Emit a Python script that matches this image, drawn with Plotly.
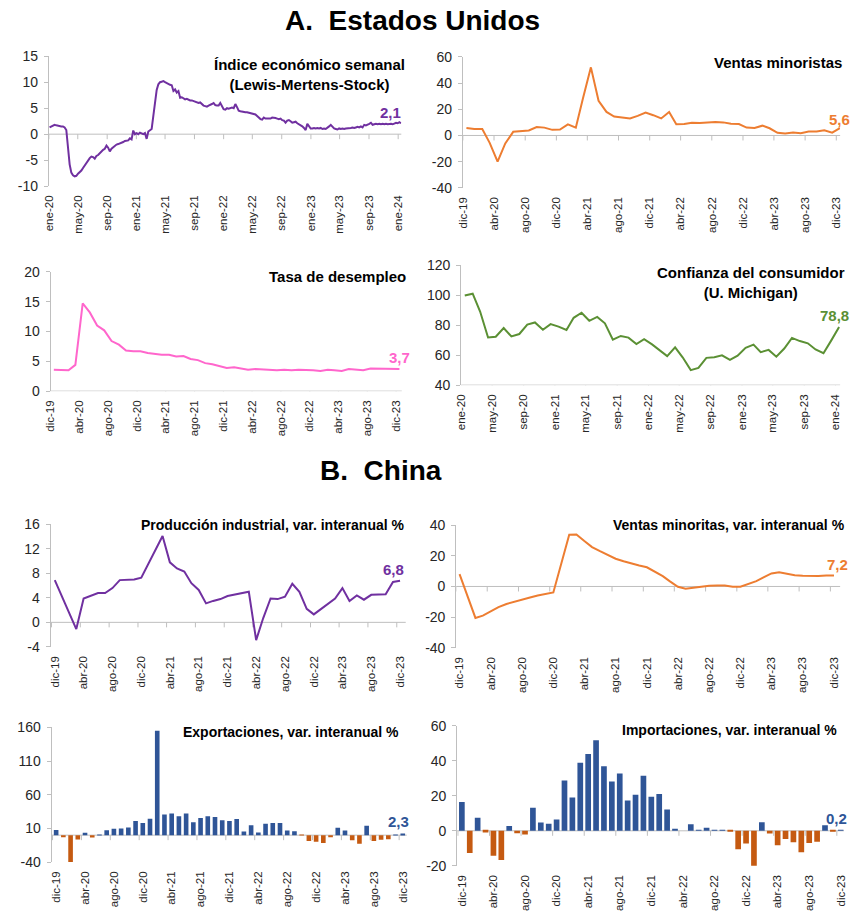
import plotly.graph_objects as go
import pandas as pd

W, H = 855, 913
FONT = "Liberation Sans, Arial, Helvetica, sans-serif"

MESES = ["ene", "feb", "mar", "abr", "may", "jun", "jul", "ago", "sep", "oct", "nov", "dic"]

TICKS_ENE = ["ene-20", "may-20", "sep-20", "ene-21", "may-21", "sep-21", "ene-22",
             "may-22", "sep-22", "ene-23", "may-23", "sep-23", "ene-24"]
TICKS_DIC = ["dic-19", "abr-20", "ago-20", "dic-20", "abr-21", "ago-21", "dic-21",
             "abr-22", "ago-22", "dic-22", "abr-23", "ago-23", "dic-23"]

# ---------------- Estados Unidos ----------------
# Índice económico semanal (Lewis-Mertens-Stock), semanal desde 04-ene-2020
LMS_2020 = [1.3, 1.5, 1.7, 1.8,
            1.7, 1.6, 1.6, 1.5, 1.5,
            1.3, 0.8, -2.5, -5.8,
            -7.4, -7.9, -8.1, -8.0,
            -7.6, -7.3, -7.0, -6.5, -6.0,
            -5.5, -5.0, -4.6, -4.3,
            -4.4, -4.7, -4.2, -4.0,
            -3.6, -3.4, -3.0, -2.8, -2.2,
            -2.6, -3.3, -2.8, -2.5,
            -2.3, -2.0, -1.9, -1.8, -1.6,
            -1.5, -1.3, -1.2, -1.2,
            -0.8, -1.0, 0.7, 0.0]
LMS_2021 = [0.2, 0.0, 0.3, 0.1, 0.0,
            0.2, -0.9, 0.5, 0.8,
            1.0, 3.5, 6.5, 8.5,
            9.6, 10.0, 10.1, 10.2,
            10.0, 9.8, 9.6, 9.5, 9.4,
            8.3, 8.6, 8.0, 8.3,
            7.0, 7.1, 6.9, 6.7, 6.8,
            6.6, 6.5, 6.5, 6.4,
            6.3, 6.2, 6.0, 6.1,
            5.8, 5.5, 5.4, 5.3, 5.5,
            5.6, 5.8, 6.0, 5.6,
            5.5, 5.5, 6.0, 5.4]
LMS_2022 = [4.8, 4.7, 5.0, 4.9, 5.0,
            5.1, 5.0, 5.8, 5.2,
            4.5, 4.4, 4.3, 4.3,
            4.2, 4.2, 4.1, 4.0, 4.0,
            3.9, 3.8, 3.5, 3.2,
            2.9, 2.8, 3.2, 3.0,
            3.0, 3.1, 3.0, 3.2, 3.2,
            3.1, 3.0, 2.9, 3.0,
            2.7, 2.6, 2.2, 2.6,
            2.7, 2.5, 2.2, 2.3, 2.4,
            2.1, 1.9, 1.8, 1.5,
            1.2, 0.8, 2.0, 1.5, 1.1]
LMS_2023 = [1.1, 1.2, 1.1, 1.2,
            1.1, 1.2, 1.0, 1.1,
            1.0, 1.2, 1.5, 1.8,
            1.5, 1.1, 1.0, 0.9, 1.1,
            1.0, 1.1, 1.0, 1.1,
            1.1, 1.2, 1.2, 1.3,
            1.2, 1.3, 1.4, 1.3, 1.5,
            1.3, 1.8, 1.7, 1.8,
            2.0, 2.2, 1.8, 1.9, 2.0,
            1.9, 2.0, 1.9, 2.0,
            1.9, 2.0, 1.9, 2.0,
            2.0, 1.9, 2.1, 2.2, 2.1]
LMS_2024 = [2.3, 2.1]
LMS = LMS_2020 + LMS_2021 + LMS_2022 + LMS_2023 + LMS_2024
LMS_FECHAS = pd.date_range("2020-01-04", periods=len(LMS), freq="7D")

# Ventas minoristas (var. a/a %), dic-19 .. dic-23
VENTAS_EU = [5.8, 5.0, 4.9, -5.6, -19.9, -6.1, 2.8, 3.3, 3.8, 6.5, 6.0, 4.3,
             4.5, 8.5, 6.0, 28.5, 52.0, 26.5, 18.0, 14.5, 14.0, 13.0, 15.0, 17.5,
             15.5, 13.0, 18.0, 8.5, 8.7, 9.8, 9.5, 10.0, 10.3, 10.0, 9.0, 8.7,
             6.0, 5.8, 7.5, 5.5, 2.0, 1.5, 2.3, 1.8, 3.0, 3.0, 4.0, 2.2,
             5.6]
# Tasa de desempleo (%), dic-19 .. dic-23
DESEMPLEO = [3.6, 3.6, 3.5, 4.4, 14.7, 13.2, 11.0, 10.2, 8.4, 7.8, 6.8, 6.7,
             6.7, 6.4, 6.2, 6.1, 6.1, 5.8, 5.9, 5.4, 5.2, 4.7, 4.5, 4.2,
             3.9, 4.0, 3.8, 3.6, 3.7, 3.6, 3.6, 3.5, 3.6, 3.5, 3.6, 3.6,
             3.5, 3.4, 3.6, 3.5, 3.4, 3.7, 3.6, 3.5, 3.8, 3.8, 3.8, 3.7,
             3.7]
# Confianza del consumidor (U. Michigan), ene-20 .. ene-24
CONFIANZA = [99.8, 101.0, 89.1, 71.8, 72.3, 78.1, 72.5, 74.1, 80.4, 81.8, 76.9, 80.7,
             79.0, 76.8, 84.9, 88.3, 82.9, 85.5, 81.2, 70.3, 72.8, 71.7, 67.4, 70.6,
             67.2, 62.8, 59.4, 65.2, 58.4, 50.0, 51.5, 58.2, 58.6, 59.9, 56.8, 59.7,
             64.9, 67.0, 62.0, 63.5, 59.0, 64.4, 71.5, 69.4, 67.9, 63.8, 61.3, 69.7,
             78.8]

# ---------------- China ----------------
N = None
PROD_IND = [6.9, N, N, -1.1, 3.9, 4.4, 4.8, 4.8, 5.6, 6.9, 6.9, 7.0,
            7.3, N, N, 14.1, 9.8, 8.8, 8.3, 6.4, 5.3, 3.1, 3.5, 3.8,
            4.3, N, N, 5.0, -2.9, 0.7, 3.9, 3.8, 4.2, 6.3, 5.0, 2.2,
            1.3, N, N, 3.9, 5.6, 3.5, 4.4, 3.7, 4.5, 4.5, 4.6, 6.6,
            6.8]
VENTAS_CH = [8.0, N, -20.5, -19.0, -16.2, -13.5, -11.4, -9.9, -8.6, -7.2, -5.9, -4.8,
             -3.9, N, 33.8, 33.9, 29.6, 25.7, 23.0, 20.7, 18.1, 16.4, 14.9, 13.7,
             12.5, N, 6.7, 3.3, -0.2, -1.5, -0.7, -0.2, 0.5, 0.7, 0.6, -0.1,
             -0.2, N, 3.5, 5.8, 8.5, 9.3, 8.2, 7.3, 7.0, 6.8, 6.9, 7.2,
             7.2]
EXPORT = [7.6, -3.0, -40.6, -6.6, 3.5, -3.3, 0.5, 7.2, 9.5, 9.9, 11.4, 21.1,
          18.1, 24.5, 154.9, 30.6, 32.3, 27.9, 32.2, 19.3, 25.6, 28.1, 27.1, 22.0,
          20.9, 24.1, 5.5, 14.7, 3.9, 16.9, 17.9, 18.0, 7.1, 5.7, -0.3, -8.7,
          -9.9, -11.5, -3.0, 11.0, 7.0, -7.5, -12.9, 14.0, -8.8, -7.0, -6.2, 0.5,
          2.3]
IMPORT = [16.5, -12.7, 7.5, -1.0, -14.3, -16.7, 2.7, -1.4, -2.1, 13.2, 4.7, 4.0,
          6.5, 28.7, 19.0, 38.9, 43.9, 51.8, 36.9, 28.2, 32.8, 17.3, 20.6, 31.5,
          19.5, 21.0, 12.2, 0.8, 0.0, 3.8, 0.1, 1.8, 0.3, 0.2, -0.5, -10.5,
          -7.2, -20.2, 4.9, -1.5, -8.2, -4.7, -6.6, -12.2, -7.0, -6.3, 3.1, -0.6,
          0.2]


def fmt_mes(d):
    return f"{MESES[d.month - 1]}-{d.year % 100:02d}"


def lbl_date(lbl, day):
    m, y = lbl.split("-")
    return f"20{y}-{MESES.index(m) + 1:02d}-{day:02d}"


MESES_DIC19 = [fmt_mes(d) for d in pd.date_range("2019-12-01", periods=49, freq="MS")]
MESES_ENE20 = [fmt_mes(d) for d in pd.date_range("2020-01-01", periods=49, freq="MS")]
FECHAS_DIC19 = [lbl_date(m, 15) for m in MESES_DIC19]
FECHAS_ENE20 = [lbl_date(m, 15) for m in MESES_ENE20]

PURPLE = "#7030A0"
ORANGE_L = "#ED7D31"
PINK = "#FF66CC"
GREEN = "#5B9034"
BLUE = "#2F5597"
ORANGE_D = "#C55A11"
AXIS_C = "#BFBFBF"
TXT = "#262626"

PANELS = [
    dict(k=1, kind="line", x=list(LMS_FECHAS), y=LMS, color=PURPLE,
         xdom=(43.3, 399.5), ydom=(56, 186), xr=["2020-01-01", "2024-01-14"],
         yr=(-10, 15), step=5, ticks=TICKS_ENE, lab_day=1, mark_day=1, cross=0,
         title="Índice económico semanal<br>(Lewis-Mertens-Stock)", tx=405, ty=74, ts=15,
         lab="2,1", lxa="right", lxs=2, lys=0),
    dict(k=2, kind="line", x=FECHAS_DIC19, y=VENTAS_EU, color=ORANGE_L,
         xdom=(461.7, 843), ydom=(56.7, 187.7), xr=["2019-12-01", "2023-12-16"],
         yr=(-40, 60), step=20, ticks=TICKS_DIC, lab_day=1, mark_day=1, cross=0,
         title="Ventas minoristas", tx=846.7, ty=62.7, ts=15,
         lab="5,6", lxa="center", lxs=0, lys=-2),
    dict(k=3, kind="line", x=FECHAS_DIC19, y=DESEMPLEO, color=PINK,
         xdom=(45, 400), ydom=(271.7, 391), xr=["2019-12-01", "2023-12-25"],
         yr=(0, 20), step=5, ticks=TICKS_DIC, lab_day=1, mark_day=1, cross=0,
         title="Tasa de desempleo", tx=406, ty=276.7, ts=15,
         lab="3,7", lxa="center", lxs=0, lys=1),
    dict(k=4, kind="line", x=FECHAS_ENE20, y=CONFIANZA, color=GREEN,
         xdom=(460, 843), ydom=(265, 385), xr=["2020-01-01", "2024-01-19"],
         yr=(40, 120), step=20, ticks=TICKS_ENE, lab_day=1, mark_day=1, cross=40,
         title="Confianza del consumidor<br>(U. Michigan)", tx=850, ty=282, ts=15,
         lab="78,8", lxa="center", lxs=-5, lys=1),
    dict(k=5, kind="line", x=FECHAS_DIC19, y=PROD_IND, color=PURPLE,
         xdom=(45, 404), ydom=(524.3, 646.7), xr=["2019-11-27", "2024-01-08"],
         yr=(-4, 16), step=4, ticks=TICKS_DIC, lab_day=15, mark_day=1, cross=0,
         title="Producción industrial, var. interanual %", tx=405, ty=525, ts=14,
         lab="6,8", lxa="center", lxs=-7, lys=1),
    dict(k=6, kind="line", x=FECHAS_DIC19, y=VENTAS_CH, color=ORANGE_L,
         xdom=(455, 843), ydom=(525, 647.7), xr=["2019-12-02", "2024-01-08"],
         yr=(-40, 40), step=20, ticks=TICKS_DIC, lab_day=15, mark_day=1, cross=0,
         title="Ventas minoritas, var. interanual %", tx=850, ty=525, ts=14,
         lab="7,2", lxa="center", lxs=4, lys=0),
    dict(k=7, kind="bar", x=MESES_DIC19, y=EXPORT, barw=0.64,
         xdom=(46, 405), ydom=(727.3, 862), xr=[-0.64, 48.55],
         yr=(-40, 160), step=50, ticks=TICKS_DIC, cross=0,
         title="Exportaciones, var. interanual %", tx=399.3, ty=732, ts=14,
         lab="2,3", lxa="center", lxs=-4, lys=2),
    dict(k=8, kind="bar", x=MESES_DIC19, y=IMPORT, barw=0.72,
         xdom=(456, 846.7), ydom=(725.7, 865.7), xr=[-0.59, 48.38],
         yr=(-20, 60), step=20, ticks=TICKS_DIC, cross=0,
         title="Importaciones, var. interanual %", tx=841.7, ty=730, ts=14,
         lab="0,2", lxa="center", lxs=-4, lys=1),
]

fig = go.Figure()
layout = dict(width=W, height=H, margin=dict(l=0, r=0, t=0, b=0),
              paper_bgcolor="white", plot_bgcolor="white", showlegend=False,
              font=dict(family=FONT, color=TXT))
shapes, annotations = [], []

# the photographed page is offset ~7.8 px and squeezed vertically by ~0.9826;
# positions below are given in reference pixels and converted accordingly
V_OFF, V_SCALE = 7.8, 0.9826


def px_x(v):
    return v / W


def px_y(v):
    return 1 - ((v - V_OFF) / V_SCALE) / H


for p in PANELS:
    k = p["k"]
    xn = "x" if k == 1 else f"x{k}"
    yn = "y" if k == 1 else f"y{k}"
    xkey = "xaxis" if k == 1 else f"xaxis{k}"
    ykey = "yaxis" if k == 1 else f"yaxis{k}"
    if p["kind"] == "line":
        fig.add_trace(go.Scatter(x=p["x"], y=p["y"], mode="lines",
                                 line=dict(color=p["color"], width=2),
                                 connectgaps=True, xaxis=xn, yaxis=yn, hoverinfo="skip"))
        last_x = [v for v, w in zip(p["x"], p["y"]) if w is not None][-1]
        last_y = [w for w in p["y"] if w is not None][-1]
        lab_color = p["color"]
        tickvals = [lbl_date(t, p["lab_day"]) for t in p["ticks"]]
        marks = [lbl_date(t, p["mark_day"]) for t in p["ticks"]]
        xtype = "date"
    else:
        colors = [BLUE if v >= 0 else ORANGE_D for v in p["y"]]
        fig.add_trace(go.Bar(x=p["x"], y=p["y"], width=p["barw"],
                             marker=dict(color=colors, line=dict(width=0)),
                             xaxis=xn, yaxis=yn, hoverinfo="skip"))
        last_x = len(p["y"]) - 1
        last_y = p["y"][-1]
        lab_color = BLUE if last_y >= 0 else ORANGE_D
        tickvals = p["ticks"]
        marks = [p["x"].index(t) - 0.5 for t in p["ticks"]]
        xtype = "category"

    ylo, yhi = p["yr"]
    ytv = list(range(ylo, yhi + 1, p["step"]))
    layout[xkey] = dict(domain=[px_x(p["xdom"][0]), px_x(p["xdom"][1])],
                        range=p["xr"], type=xtype, anchor=yn,
                        tickmode="array", tickvals=tickvals, ticktext=p["ticks"],
                        tickangle=-90, tickfont=dict(size=11.5, color=TXT, family=FONT),
                        showline=False, showgrid=False, zeroline=False, ticks="",
                        ticklabelstandoff=6, fixedrange=True)
    layout[ykey] = dict(domain=[px_y(p["ydom"][1]), px_y(p["ydom"][0])],
                        range=[ylo, yhi], anchor=xn,
                        tickmode="array", tickvals=ytv, ticktext=[str(v) for v in ytv],
                        tickfont=dict(size=14, color=TXT, family=FONT),
                        showline=True, linecolor=AXIS_C, linewidth=1,
                        ticks="outside", ticklen=4, tickcolor=AXIS_C,
                        ticklabelstandoff=3,
                        showgrid=False, zeroline=False, fixedrange=True)
    # horizontal axis line where the axis crosses
    shapes.append(dict(type="line", xref=f"{xn} domain", yref=yn, x0=0, x1=1,
                       y0=p["cross"], y1=p["cross"], layer="below",
                       line=dict(color=AXIS_C, width=1)))
    for m in marks:
        shapes.append(dict(type="line", xref=xn, yref=yn, x0=m, x1=m,
                           ysizemode="pixel", yanchor=p["cross"], y0=0, y1=-5,
                           layer="below", line=dict(color=AXIS_C, width=1)))
    annotations.append(dict(text=f"<b>{p['title']}</b>", xref="paper", yref="paper",
                            x=px_x(p["tx"]), y=px_y(p["ty"]), xanchor="right",
                            yanchor="middle", align="center", showarrow=False,
                            font=dict(size=p["ts"], color="#000000", family=FONT)))
    annotations.append(dict(text=f"<b>{p['lab']}</b>", xref=xn, yref=yn,
                            x=last_x, y=last_y, xanchor=p["lxa"], yanchor="bottom",
                            xshift=p["lxs"], yshift=p["lys"], showarrow=False,
                            font=dict(size=15, color=lab_color, family=FONT)))

annotations.append(dict(text="<b>A.\u00a0\u00a0Estados Unidos</b>", xref="paper", yref="paper",
                        x=px_x(411), y=px_y(20), xanchor="center", yanchor="middle",
                        showarrow=False, font=dict(size=28, color="#000000", family=FONT)))
annotations.append(dict(text="<b>B.\u00a0\u00a0China</b>", xref="paper", yref="paper",
                        x=px_x(379), y=px_y(470), xanchor="center", yanchor="middle",
                        showarrow=False, font=dict(size=28, color="#000000", family=FONT)))

layout["shapes"] = shapes
layout["annotations"] = annotations
fig.update_layout(**layout)

POST = (
    "document.documentElement.style.margin='0';"
    "document.documentElement.style.overflow='hidden';"
    "document.body.style.margin='0';document.body.style.padding='0';"
    "document.body.style.overflow='hidden';"
    "var gd=document.getElementById('{plot_id}');"
    "gd.style.position='absolute';gd.style.left='0px';gd.style.top='0px';"
)
fig.write_html("out.html", post_script=POST, config={"displayModeBar": False})
